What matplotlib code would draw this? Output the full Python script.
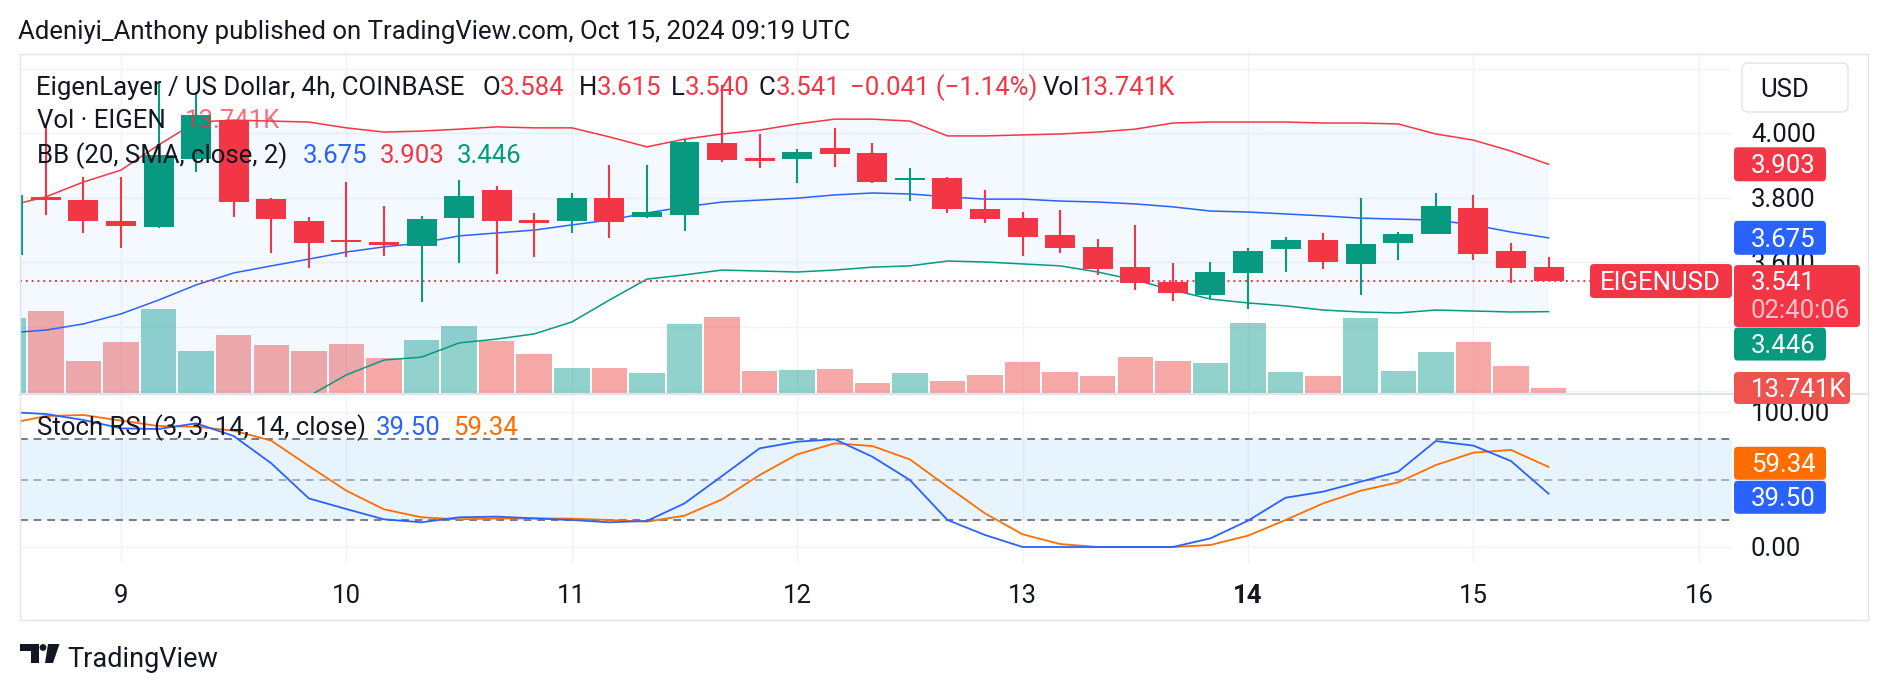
import matplotlib
matplotlib.use("Agg")
import matplotlib.pyplot as plt
import matplotlib.dates as mdates
from matplotlib.patches import FancyBboxPatch, Polygon, Circle, Rectangle
from matplotlib.transforms import blended_transform_factory
import numpy as np
import pandas as pd

plt.rcParams['font.family'] = ['Roboto', 'DejaVu Sans']

# ---- datos (velas de 4h, EIGEN/USD, desde el 8 oct 12:00 UTC) ----
opens = [3.622, 3.800, 3.792,
         3.727, 3.709, 3.919, 4.040, 3.795, 3.727,
         3.668, 3.659, 3.650, 3.737, 3.823, 3.729,
         3.727, 3.798, 3.740, 3.746, 3.969, 3.921,
         3.919, 3.953, 3.938, 3.855, 3.860, 3.764,
         3.736, 3.684, 3.646, 3.584, 3.538, 3.498,
         3.566, 3.640, 3.668, 3.594, 3.659, 3.687,
         3.767, 3.634, 3.584]
highs = [3.830, 4.025, 3.864,
         3.864, 4.158, 4.127, 4.040, 3.800, 3.740,
         3.848, 3.774, 3.743, 3.854, 3.836, 3.752,
         3.814, 3.901, 3.901, 3.981, 4.149, 3.997,
         3.950, 4.016, 3.969, 3.891, 3.864, 3.823,
         3.755, 3.761, 3.671, 3.715, 3.597, 3.600,
         3.643, 3.678, 3.690, 3.798, 3.693, 3.814,
         3.808, 3.659, 3.615]
lows = [3.600, 3.746, 3.690,
        3.643, 3.705, 3.879, 3.740, 3.628, 3.581,
        3.616, 3.619, 3.476, 3.597, 3.563, 3.616,
        3.690, 3.674, 3.737, 3.696, 3.910, 3.891,
        3.845, 3.895, 3.845, 3.789, 3.752, 3.721,
        3.619, 3.628, 3.560, 3.513, 3.479, 3.485,
        3.454, 3.569, 3.578, 3.498, 3.606, 3.687,
        3.606, 3.535, 3.540]
closes = [3.808, 3.795, 3.727,
          3.712, 3.932, 4.056, 3.786, 3.733, 3.659,
          3.663, 3.654, 3.733, 3.805, 3.727, 3.724,
          3.798, 3.724, 3.755, 3.972, 3.916, 3.916,
          3.941, 3.935, 3.848, 3.860, 3.764, 3.733,
          3.678, 3.643, 3.578, 3.535, 3.504, 3.569,
          3.634, 3.668, 3.600, 3.656, 3.687, 3.774,
          3.625, 3.582, 3.541]
volumes_k = [206, 226, 88,
             140, 231, 116, 160, 132, 116,
             135, 96, 146, 184, 143, 107,
             69, 69, 55, 190, 209, 61,
             63, 66, 28, 55, 33, 50,
             85, 58, 47, 99, 88, 83,
             193, 58, 47, 206, 61, 113,
             140, 74, 13.741]
bb_upper = [3.774, 3.802, 3.848,
            3.885, 3.963, 4.034, 4.040, 4.037, 4.034,
            4.016, 4.003, 4.006, 4.012, 4.019, 4.016,
            4.016, 3.988, 3.957, 3.981, 3.997, 4.009,
            4.028, 4.043, 4.043, 4.037, 3.991, 3.991,
            3.994, 3.997, 4.003, 4.012, 4.031, 4.034,
            4.034, 4.034, 4.031, 4.031, 4.028, 3.997,
            3.978, 3.944, 3.903]
bb_basis = [3.380, 3.389, 3.408,
            3.439, 3.482, 3.529, 3.566, 3.588, 3.609,
            3.631, 3.647, 3.659, 3.681, 3.690, 3.699,
            3.715, 3.730, 3.752, 3.771, 3.786, 3.792,
            3.798, 3.808, 3.814, 3.811, 3.802, 3.795,
            3.795, 3.789, 3.786, 3.780, 3.771, 3.758,
            3.755, 3.749, 3.743, 3.736, 3.733, 3.730,
            3.715, 3.693, 3.675]
bb_lower = [2.986, 2.976, 2.968,
            2.993, 3.001, 3.024, 3.092, 3.139, 3.184,
            3.250, 3.296, 3.305, 3.349, 3.361, 3.377,
            3.414, 3.482, 3.547, 3.560, 3.575, 3.572,
            3.569, 3.575, 3.584, 3.588, 3.603, 3.600,
            3.594, 3.588, 3.569, 3.544, 3.513, 3.485,
            3.473, 3.464, 3.451, 3.445, 3.442, 3.451,
            3.448, 3.445, 3.446]
stoch_k = [100.0, 98.5, 94.1,
           87.9, 87.4, 91.6, 82.2, 62.0, 36.0,
           28.1, 20.5, 18.3, 22.0, 22.5, 21.2,
           20.0, 18.3, 19.3, 32.3, 52.6, 73.1,
           78.0, 79.8, 66.9, 49.6, 20.0, 8.9,
           0.0, 0.0, 0.0, 0.0, 0.0, 6.4,
           19.5, 36.5, 41.0, 48.4, 55.8, 78.5,
           75.1, 63.7, 39.50]
stoch_d = [91.4, 97.0, 97.8,
           93.6, 89.6, 89.1, 86.2, 78.8, 60.0,
           41.7, 27.9, 22.0, 20.5, 21.2, 21.2,
           21.0, 20.0, 18.8, 23.2, 35.3, 53.3,
           68.6, 76.8, 74.8, 64.9, 44.7, 24.9,
           9.4, 2.2, 0.0, 0.0, 0.0, 1.5,
           8.4, 20.0, 32.3, 41.7, 47.9, 60.7,
           69.9, 71.9, 59.34]
price_ticks = [4.0, 3.8, 3.6]
day_labels = ["9", "10", "11", "12", "13", "14", "15", "16"]

# ---- colores ----
DARK = '#131722'
GREEN = '#089981'
RED = '#f23645'
BLUE = '#2962ff'
ORANGE = '#ff6d00'
GRID = '#f0f3fa'
BORDER = '#e0e3eb'
FS = 18.5

W, H = 1888, 690
times = pd.date_range("2024-10-08 12:00", periods=len(opens), freq="4h")
xs = mdates.date2num(times.to_pydatetime())
days = mdates.date2num(pd.date_range("2024-10-09", periods=len(day_labels), freq="D").to_pydatetime())

o = np.array(opens); c = np.array(closes)
up = c >= o
cols = np.where(up, GREEN, RED)
vcols = np.where(up, '#26a69a', '#ef5350')

fig = plt.figure(figsize=(W / 100, H / 100), dpi=100)
fig.patch.set_facecolor('white')


def frac(x0, y0, x1, y1):
    return [x0 / W, 1 - y1 / H, (x1 - x0) / W, (y1 - y0) / H]


ax = fig.add_axes(frac(20, 53, 1732, 393))
axv = ax.twinx()
axs = fig.add_axes(frac(20, 395, 1732, 563), sharex=ax)
ax.set_zorder(axv.get_zorder() + 1)

x_lo, x_hi = days[0] - 0.4481, days[0] + 7.1473
ax.set_xlim(x_lo, x_hi)
ax.set_ylim(3.1938, 4.2481)
axv.set_ylim(0, 935)
axs.set_ylim(-11.85, 112.6)

# rejilla (debajo del volumen)
tr = blended_transform_factory(axv.transAxes, ax.transData)
for p in [3.2, 3.4, 3.6, 3.8, 4.0, 4.2]:
    axv.plot([0, 1], [p, p], transform=tr, color=GRID, lw=1, zorder=0)
for d in days:
    axv.axvline(d, color=GRID, lw=1, zorder=0)
    axs.axvline(d, color=GRID, lw=1, zorder=0)

# volumen
axv.bar(xs, volumes_k, width=0.1575, color=vcols, alpha=0.5, lw=0, zorder=1)
axv.set_ylim(0, 935)

# bandas de Bollinger
ax.fill_between(xs, bb_upper, bb_lower, color='#2196f3', alpha=0.05, lw=0, zorder=1)
ax.plot(xs, bb_upper, color=RED, lw=1.1, zorder=2)
ax.plot(xs, bb_basis, color=BLUE, lw=1.1, zorder=2)
ax.plot(xs, bb_lower, color=GREEN, lw=1.1, zorder=2)

# linea del precio actual
ax.axhline(closes[-1], xmin=0, xmax=(1590 - 20) / 1712, color=RED, lw=1.4,
           ls=(0, (1, 2)), zorder=2)

# velas
ax.vlines(xs, lows, highs, colors=cols, lw=1.5, zorder=3)
body = np.abs(c - o)
min_h = 0.008
bh = np.maximum(body, min_h)
bottom = np.minimum(o, c) - (bh - body) / 2
ax.bar(xs, bh, bottom=bottom, width=0.133, color=cols, lw=0, zorder=4)

# Stoch RSI
axs.plot([x_lo, x_hi], [100, 100], color=GRID, lw=1, zorder=0)
axs.plot([x_lo, x_hi], [0, 0], color=GRID, lw=1, zorder=0)
axs.axhspan(20, 80, color='#2196f3', alpha=0.1, lw=0, zorder=1)
axs.axhline(80, color='#787b86', lw=1.4, ls=(0, (4, 3)), zorder=2)
axs.axhline(50, color='#787b86', lw=1.4, ls=(0, (4, 3)), alpha=0.6, zorder=2)
axs.axhline(20, color='#787b86', lw=1.4, ls=(0, (4, 3)), zorder=2)
axs.plot(xs, stoch_d, color=ORANGE, lw=1.3, zorder=3)
axs.plot(xs, stoch_k, color=BLUE, lw=1.3, zorder=4)
axs.set_xlim(x_lo, x_hi)
axs.set_ylim(-11.85, 112.6)

for a in (ax, axv, axs):
    a.axis('off')

# ---- capa superior en pixeles ----
ov = fig.add_axes([0, 0, 1, 1], zorder=10)
ov.set_xlim(0, W)
ov.set_ylim(H, 0)
ov.axis('off')
ren = fig.canvas.get_renderer()


def ypix(a, v):
    return H - a.transData.transform((xs[0], v))[1]


def xpix(a, v):
    return a.transData.transform((v, 0))[0]


def put(x, y, s, color=DARK, size=FS, **kw):
    return ov.text(x, y, s, color=color, fontsize=size, va='baseline', **kw)


def chain(x, y, parts):
    for s, col, alpha in parts:
        t = put(x, y, s, col, alpha=alpha)
        x += t.get_window_extent(ren).width


def tag(x0, yc, w, h, s, fc, tc='white'):
    ov.add_patch(FancyBboxPatch((x0, yc - h / 2), w, h, boxstyle="round,pad=0,rounding_size=4",
                                fc=fc, ec='none', zorder=4))
    put(x0 + 17, yc + 9, s, tc, zorder=5)


# marco
ov.add_patch(Rectangle((19.5, 53.5), 1848, 566, fill=False, ec=BORDER, lw=1, zorder=1))
ov.plot([19.5, 1867.5], [394, 394], color=BORDER, lw=1.5, zorder=1)

# titulo
put(18, 39, "Adeniyi_Anthony published on TradingView.com, Oct 15, 2024 09:19 UTC")

# leyendas
chg = closes[-1] - closes[-2]
pct = chg / closes[-2] * 100
fmt = lambda v: f"{v:.3f}".replace('-', '\u2212')
put(36, 95, "EigenLayer / US Dollar, 4h, COINBASE")
chain(482, 95, [("O", DARK, 1), (fmt(opens[-1]), RED, 1)])
chain(579, 95, [("H", DARK, 1), (fmt(highs[-1]), RED, 1)])
chain(671, 95, [("L", DARK, 1), (fmt(lows[-1]), RED, 1)])
chain(759, 95, [("C", DARK, 1), (fmt(closes[-1]), RED, 1)])
put(850, 95, f"{fmt(chg)} ({pct:.2f}%)".replace('-', '\u2212'), RED)
chain(1043, 95, [("Vol", DARK, 1), (f"{volumes_k[-1]:.3f}K", RED, 1)])

put(37, 128, "Vol \u00b7 EIGEN")
put(185, 128, f"{volumes_k[-1]:.3f}K", RED, alpha=0.7)
put(37, 163, "BB (20, SMA, close, 2)")
put(303, 163, fmt(bb_basis[-1]), BLUE)
put(380, 163, fmt(bb_upper[-1]), RED)
put(457, 163, fmt(bb_lower[-1]), GREEN)

put(37, 435, "Stoch RSI (3, 3, 14, 14, close)")
put(376, 435, f"{stoch_k[-1]:.2f}", BLUE)
put(453, 435, f"{stoch_d[-1]:.2f}", ORANGE)

# eje de precios
ov.add_patch(FancyBboxPatch((1742, 63), 106, 49, boxstyle="round,pad=0,rounding_size=6",
                            fc='white', ec=BORDER, lw=1, zorder=4))
put(1760, 97, "USD", zorder=5)
for p in price_ticks:
    put(1751, ypix(ax, p) + 9, f"{p:.3f}", zorder=2)

tag(1734, ypix(ax, bb_upper[-1]), 92, 34, fmt(bb_upper[-1]), RED)
tag(1734, ypix(ax, bb_basis[-1]), 92, 34, fmt(bb_basis[-1]), BLUE)
yc = ypix(ax, closes[-1])
ov.add_patch(FancyBboxPatch((1590, yc - 17), 142, 34, boxstyle="round,pad=0,rounding_size=4",
                            fc=RED, ec='none', zorder=4))
put(1600, yc + 9, "EIGENUSD", 'white', zorder=5)
ov.add_patch(FancyBboxPatch((1734, yc - 16), 126, 62, boxstyle="round,pad=0,rounding_size=4",
                            fc=RED, ec='none', zorder=4))
put(1751, yc + 9, fmt(closes[-1]), 'white', zorder=5)
put(1751, yc + 37, "02:40:06", '#fbc3c8', zorder=5)
y_low = max(ypix(ax, bb_lower[-1]), yc + 46 + 17)
tag(1734, y_low, 92, 33, fmt(bb_lower[-1]), GREEN)
y_vol = max(H - axv.transData.transform((xs[0], volumes_k[-1]))[1], y_low + 17 + 16)
tag(1734, y_vol, 116, 32, f"{volumes_k[-1]:.3f}K", '#ef5350')

# eje del Stoch RSI
put(1751, ypix(axs, 100) + 9, "100.00", zorder=2)
put(1751, ypix(axs, 0) + 9, "0.00", zorder=2)
yk, yd = ypix(axs, stoch_k[-1]), ypix(axs, stoch_d[-1])
mid = (yk + yd) / 2
tag(1734, mid - 17, 92, 33, f"{stoch_d[-1]:.2f}", ORANGE)
tag(1734, mid + 17, 92, 33, f"{stoch_k[-1]:.2f}", BLUE)

# eje de tiempo
for d, lab in zip(days, day_labels):
    put(xpix(axs, d), 603, lab, ha='center', fontweight='bold' if lab == "14" else 'normal')

# logo TradingView
ov.add_patch(Polygon([(20, 644), (39, 644), (39, 663), (31, 663), (31, 651), (20, 651)],
                     closed=True, fc=DARK, ec='none'))
ov.add_patch(Circle((43, 647.5), 3.4, fc=DARK, ec='none'))
ov.add_patch(Polygon([(48, 644), (59.5, 644), (53, 663), (45, 663)], closed=True, fc=DARK, ec='none'))
put(67, 667, "TradingView", size=19.5)

fig.savefig("out.png", dpi=100)
